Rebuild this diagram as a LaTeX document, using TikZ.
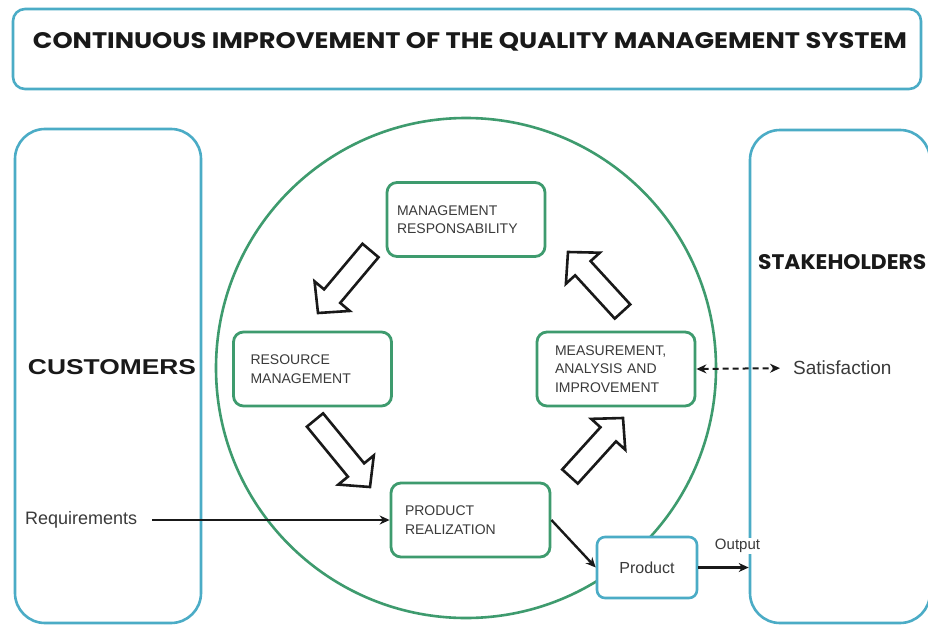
\documentclass[tikz,border=0pt]{standalone}
\usepackage{graphicx}
\usepackage{fontspec}
\setmainfont{Liberation Sans}
\newfontfamily\gothic{Poppins}
\usetikzlibrary{arrows.meta,calc}
\definecolor{qblue}{HTML}{4BACC6}
\definecolor{qgreen}{HTML}{3E9B6E}
\definecolor{qtext}{HTML}{3A3A3A}
\newcommand{\bigarrow}[2]{%
  \coordinate (ba0) at ($(#2)!22pt!(#1)$);
  \draw[blockarrow] ($(#1)!10.5pt!90:(#2)$) -- ($(ba0)!10.5pt!-90:(#1)$)
    -- ($(ba0)!23pt!-90:(#1)$) -- (#2) -- ($(ba0)!23pt!90:(#1)$)
    -- ($(ba0)!10.5pt!90:(#1)$) -- ($(#1)!10.5pt!-90:(#2)$) -- cycle;}
\begin{document}
\begin{tikzpicture}[x=1pt,y=-1pt,
  bigbox/.style={draw=qblue, line width=2.6pt, rounded corners=30pt},
  qbox/.style={draw=qgreen, line width=2.8pt, rounded corners=10pt, fill=white,
    minimum width=158pt, minimum height=74pt, align=left,
    font=\fontsize{14}{18.5}\selectfont, text=qtext},
  blockarrow/.style={draw=black!90, line width=2.6pt, fill=white, line join=miter},
  conn/.style={line width=2.4pt, draw=black!90, -{Stealth[length=10pt,width=9pt]}},
  lbl/.style={text=qtext, inner sep=0pt}]
\useasboundingbox (0,0) rectangle (928,626);
\fill[white] (0,0) rectangle (928,626);

% side boxes
\node[bigbox, minimum width=186pt, minimum height=494pt] (cust) at (108,376) {};
\node[bigbox, minimum width=180pt, minimum height=493pt] (stake) at (840,376.5) {};
\node[text=black!90] (custlbl) at (112,367) {\resizebox{168pt}{15pt}{\bfseries CUSTOMERS}};
\node[text=black!90, anchor=west, inner sep=0pt] (stakelbl) at (758,262) {\resizebox{168pt}{15pt}{\gothic\bfseries STAKEHOLDERS}};

% circle
\node[draw=qgreen, line width=2.6pt, circle, minimum size=500pt, inner sep=0pt] (circ) at (466,368) {};

% title
\node[draw=qblue, line width=2.6pt, rounded corners=12pt, minimum width=908pt, minimum height=80pt] (titlebox) at (467,49) {};
\node[text=black!90] (title) at (470,42) {\resizebox{874pt}{16pt}{\gothic\bfseries CONTINUOUS IMPROVEMENT OF THE QUALITY MANAGEMENT SYSTEM}};

% process boxes
\node[qbox, inner xsep=10pt, text width=138pt] (mr) at (466,219.5) {MANAGEMENT\\RESPONSABILITY};
\node[qbox, inner xsep=17pt, text width=124pt] (rm) at (312.5,369) {RESOURCE\\MANAGEMENT};
\node[qbox, inner xsep=18pt, text width=122pt] (mai) at (616,369) {MEASUREMENT,\\ANALYSIS AND\\IMPROVEMENT};
\node[qbox, inner xsep=14pt, text width=131pt] (pr) at (470.5,520) {PRODUCT\\REALIZATION};
\node[draw=qblue, line width=2.6pt, rounded corners=8pt, fill=white, minimum width=100pt,
  minimum height=61pt, font=\fontsize{16}{19}\selectfont, text=qtext] (prod) at (647,567.5) {Product};

% block arrows
\coordinate (a1t) at (370.5,250.5); \coordinate (a1h) at (318,313);
\coordinate (a2t) at (622.5,311.5); \coordinate (a2h) at (568,252);
\coordinate (a3t) at (315,420);     \coordinate (a3h) at (370,487);
\coordinate (a4t) at (570,476.5);   \coordinate (a4h) at (623,418);
\bigarrow{a1t}{a1h}
\bigarrow{a2t}{a2h}
\bigarrow{a3t}{a3h}
\bigarrow{a4t}{a4h}

% labels
\node[lbl, anchor=west, font=\fontsize{18}{21}\selectfont] (req) at (25,520) {Requirements};
\node[lbl, anchor=west, font=\fontsize{19}{22}\selectfont] (sat) at (793,368) {Satisfaction};
\node[text=qtext, fill=white, inner sep=1.5pt, font=\fontsize{15}{18}\selectfont] (outl) at (737.5,546) {Output};

% connectors
\draw[conn, shorten <=15pt] (req.east) -- (req.east -| pr.west);
\draw[conn] (pr.east) -- (prod.west);
\draw[conn] (prod.east) -- (prod.east -| stake.west);
\draw[line width=2pt, draw=black!90, dash pattern=on 6pt off 4pt,
  {Stealth[length=10pt,width=9pt]}-{Stealth[length=10pt,width=9pt]}, shorten >=13pt] (mai.east) -- (sat.west);
\end{tikzpicture}
\end{document}
